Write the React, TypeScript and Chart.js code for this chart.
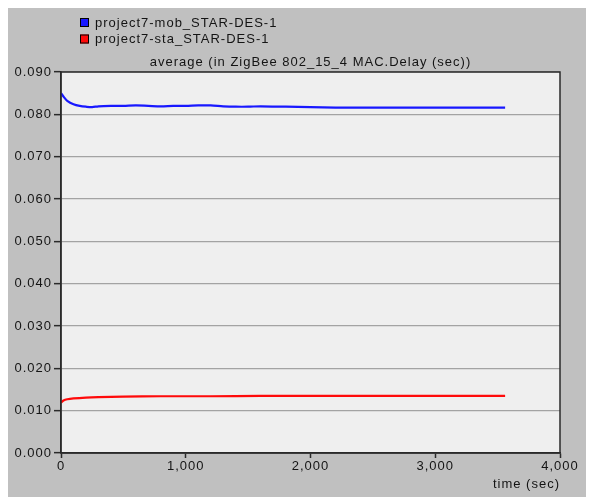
import { useEffect, useRef } from "react";
import { Chart, registerables } from "chart.js";

Chart.register(...registerables);

// Simulation time (sec) and average MAC delay (sec) for each scenario
const mobTimes = [0, 25, 50, 100, 150, 200, 250, 300, 400, 500, 600, 700, 800, 900, 1000, 1100, 1200, 1300, 1400, 1500, 1600, 1800, 2000, 2200, 2400, 2600, 2800, 3000, 3200, 3400, 3560];
const mobDelay = [0.0850, 0.0840, 0.0832, 0.0824, 0.0820, 0.0818, 0.0817, 0.0819, 0.0820, 0.0820, 0.0821, 0.0820, 0.0819, 0.0820, 0.0820, 0.0821, 0.0821, 0.0819, 0.0818, 0.0818, 0.0819, 0.0818, 0.0817, 0.0816, 0.0816, 0.0816, 0.0816, 0.0816, 0.0816, 0.0816, 0.0816];

const staTimes = [0, 20, 50, 100, 200, 300, 500, 800, 1200, 1600, 2000, 2500, 3000, 3560];
const staDelay = [0.0119, 0.0124, 0.0127, 0.0129, 0.0131, 0.0132, 0.0133, 0.0134, 0.0134, 0.0135, 0.0135, 0.0135, 0.0135, 0.0135];

const seriesNames = ["project7-mob_STAR-DES-1", "project7-sta_STAR-DES-1"];
const seriesColors = ["#1818ff", "#ff0a0a"];

const chartTitle = "average (in ZigBee 802_15_4 MAC.Delay (sec))";
const xAxisTitle = "time (sec)";

const xMin = 0;
const xMax = 4000;
const xStep = 1000;
const yMin = 0;
const yMax = 0.09;
const yStep = 0.01;

const FONT_FAMILY = "'Liberation Sans', Arial, sans-serif";
const TEXT_COLOR = "#141414";

const frame = {
  id: "frame",
  beforeDraw(chart: any) {
    const { ctx, chartArea } = chart;
    ctx.save();
    ctx.fillStyle = "#efefef";
    ctx.fillRect(chartArea.left, chartArea.top, chartArea.right - chartArea.left, chartArea.bottom - chartArea.top);
    ctx.restore();
    // wide, bitmap-like spacing for every label
    ctx.letterSpacing = "1px";
  },
  afterDraw(chart: any) {
    const { ctx, chartArea } = chart;
    ctx.save();
    // plot frame
    ctx.strokeStyle = "#2a2a2a";
    ctx.lineWidth = 1.5;
    ctx.strokeRect(chartArea.left, chartArea.top, chartArea.right - chartArea.left, chartArea.bottom - chartArea.top);

    ctx.font = `13px ${FONT_FAMILY}`;
    ctx.fillStyle = TEXT_COLOR;

    // title over the plot
    ctx.textAlign = "center";
    ctx.textBaseline = "middle";
    ctx.fillText(chartTitle, (chartArea.left + chartArea.right) / 2, 54);

    // legend in a column at the top-left
    ctx.textAlign = "left";
    chart.data.datasets.forEach((ds: any, i: number) => {
      const cy = 14.5 + i * 16.5;
      ctx.fillStyle = ds.borderColor;
      ctx.fillRect(72, cy - 4.5, 9, 9);
      ctx.strokeStyle = "#000";
      ctx.lineWidth = 1;
      ctx.strokeRect(72.5, cy - 4, 8, 8);
      ctx.fillStyle = TEXT_COLOR;
      ctx.fillText(ds.label, 87, cy + 0.5);
    });
    ctx.restore();
    ctx.letterSpacing = "0px";
  },
};

export default function App() {
  const canvasRef = useRef<HTMLCanvasElement | null>(null);

  useEffect(() => {
    const canvas = canvasRef.current;
    if (!canvas) return;
    const chart = new Chart(canvas, {
      type: "line",
      data: {
        datasets: [
          {
            label: seriesNames[0],
            data: mobTimes.map((t, i) => ({ x: t, y: mobDelay[i] })),
            borderColor: seriesColors[0],
            backgroundColor: seriesColors[0],
            borderWidth: 2.2,
            pointRadius: 0,
            tension: 0.3,
          },
          {
            label: seriesNames[1],
            data: staTimes.map((t, i) => ({ x: t, y: staDelay[i] })),
            borderColor: seriesColors[1],
            backgroundColor: seriesColors[1],
            borderWidth: 2.2,
            pointRadius: 0,
            tension: 0.3,
          },
        ],
      },
      options: {
        responsive: false,
        animation: false,
        devicePixelRatio: 1,
        layout: { padding: { top: 64, right: 34, left: 0, bottom: 0 } },
        plugins: {
          legend: { display: false },
          title: { display: false },
          tooltip: { enabled: false },
        },
        scales: {
          x: {
            type: "linear",
            min: xMin,
            max: xMax,
            afterFit: (scale: any) => {
              scale.height = 44;
            },
            ticks: {
              stepSize: xStep,
              padding: 1,
              maxRotation: 0,
              autoSkip: false,
              color: TEXT_COLOR,
              font: { family: FONT_FAMILY, size: 13 },
              callback: (v: any) => Number(v).toLocaleString("en-US"),
            },
            grid: {
              drawOnChartArea: false,
              tickLength: 5,
              tickColor: "#2a2a2a",
              tickWidth: 1.5,
            },
            border: { display: true, color: "#2a2a2a", width: 1.5 },
            title: {
              display: true,
              text: xAxisTitle,
              align: "end",
              color: TEXT_COLOR,
              font: { family: FONT_FAMILY, size: 13 },
              padding: { top: 0, bottom: 5 },
            },
          },
          y: {
            type: "linear",
            min: yMin,
            max: yMax,
            afterFit: (scale: any) => {
              scale.width = 53;
            },
            ticks: {
              stepSize: yStep,
              padding: 2,
              color: TEXT_COLOR,
              font: { family: FONT_FAMILY, size: 13 },
              callback: (v: any) => Number(v).toFixed(3),
            },
            grid: {
              color: "#a3a3a3",
              lineWidth: 1.3,
              tickLength: 7,
              tickColor: "#2a2a2a",
              tickWidth: 1.5,
            },
            border: { display: true, color: "#2a2a2a", width: 1.5 },
          },
        },
      },
      plugins: [frame],
    });
    return () => chart.destroy();
  }, []);

  return (
    <div style={{ width: 586, height: 489, background: "#c0c0c0" }}>
      <canvas ref={canvasRef} width={586} height={489} style={{ display: "block" }} />
    </div>
  );
}
